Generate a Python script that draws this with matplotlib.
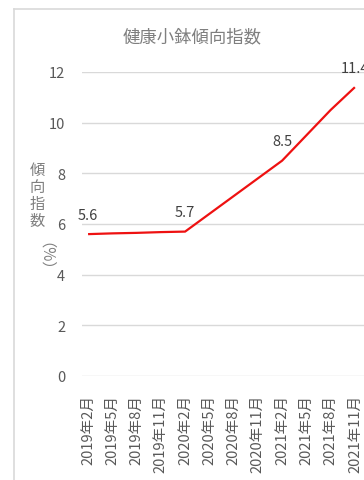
import matplotlib
matplotlib.use("Agg")
import matplotlib.pyplot as plt
from matplotlib.lines import Line2D

plt.rcParams['font.family'] = ['Noto Sans CJK JP', 'DejaVu Sans']

# data
months = ["2019年2月", "2019年5月", "2019年8月", "2019年11月",
          "2020年2月", "2020年5月", "2020年8月", "2020年11月",
          "2021年2月", "2021年5月", "2021年8月", "2021年11月"]
values = [5.6, 5.63, 5.65, 5.68, 5.7, 6.4, 7.1, 7.8, 8.5, 9.5, 10.5, 11.4]
labelled = [0, 4, 8, 11]  # points that carry a data label

W, H = 364, 481
fig = plt.figure(figsize=(W / 100, H / 100), dpi=100)

# chart-area border (cut off at right and bottom)
grey = "#d9d9d9"
fig.add_artist(Line2D([14 / W, 14 / W], [0, 1 - 10 / H], color=grey, lw=1.2))
fig.add_artist(Line2D([14 / W, 1], [1 - 10 / H, 1 - 10 / H], color=grey, lw=1.2))

ax = fig.add_axes([82 / W, 104 / H, 285 / W, 304 / H])
x = list(range(len(months)))
ax.plot(x, values, color="#ee1111", lw=1.6, solid_capstyle="butt")
for i in labelled:
    ax.annotate(f"{values[i]:g}", (x[i], values[i]), xytext=(0, 9),
                textcoords="offset points", ha="center", va="bottom",
                fontsize=10.5, color="#404040")

ax.set_xlim(-0.25, 11.5)
ax.set_ylim(0, 12)
ax.set_yticks(range(0, 13, 2))
ax.set_xticks(x)
ax.set_xticklabels(months, rotation=90, fontsize=10.5, color="#595959")
ax.tick_params(axis="y", labelsize=10.5, labelcolor="#595959", length=0, pad=12)
ax.tick_params(axis="x", length=0, pad=13)
ax.grid(axis="y", color=grey, lw=1)
ax.set_axisbelow(True)
for s in ax.spines.values():
    s.set_visible(False)

fig.text(192 / W, 1 - 37 / H, "健康小鉢傾向指数", ha="center", va="center",
         fontsize=12.5, color="#7f7f7f")
fig.text(37 / W, 1 - 196 / H, "傾\n向\n指\n数", ha="center", va="center",
         fontsize=11, color="#7f7f7f", linespacing=1.0)
fig.text(37 / W, 1 - 264 / H, "（%）", ha="center", va="center",
         fontsize=11, color="#7f7f7f", rotation=-90)

fig.savefig("out.png", dpi=100)
